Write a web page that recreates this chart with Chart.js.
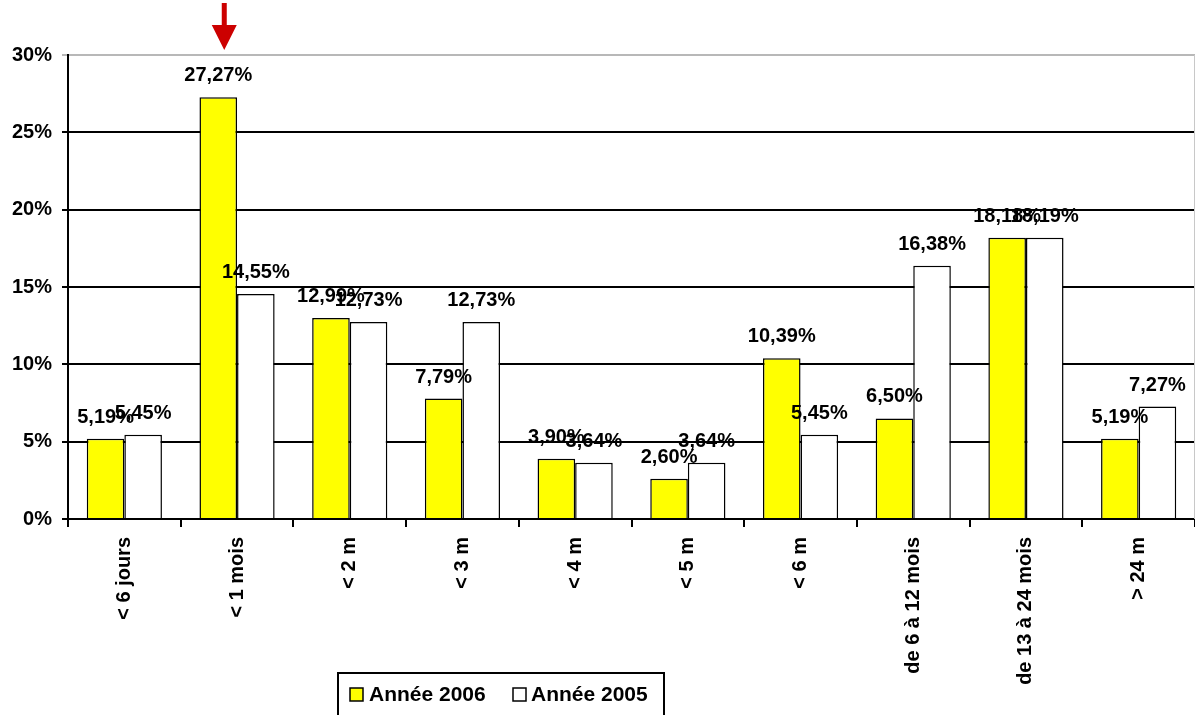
<!DOCTYPE html>
<html>
<head>
<meta charset="utf-8">
<script src="https://cdn.jsdelivr.net/npm/chart.js@4/dist/chart.umd.min.js"></script>
<style>
  html, body { margin: 0; padding: 0; background: #fff; }
  #wrap { width: 1195px; height: 715px; }
</style>
</head>
<body>
<div id="wrap"><canvas id="c" width="1195" height="715"></canvas></div>
<script>
const categories = ['< 6 jours', '< 1 mois', '< 2 m', '< 3 m', '< 4 m', '< 5 m', '< 6 m', 'de 6 à 12 mois', 'de 13 à 24 mois', '> 24 m'];
const annee2006 = [5.19, 27.27, 12.99, 7.79, 3.90, 2.60, 10.39, 6.50, 18.18, 5.19];
const annee2005 = [5.45, 14.55, 12.73, 12.73, 3.64, 3.64, 5.45, 16.38, 18.19, 7.27];
const yTicks = [0, 5, 10, 15, 20, 25, 30];

const FONT = "'Liberation Sans', Arial, sans-serif";

// value labels above each bar, french decimal comma
const valueLabels = {
  id: 'valueLabels',
  afterDatasetsDraw(chart) {
    const ctx = chart.ctx;
    ctx.save();
    ctx.font = 'bold 20px ' + FONT;
    ctx.fillStyle = '#000';
    ctx.textAlign = 'center';
    ctx.textBaseline = 'alphabetic';
    chart.data.datasets.forEach((ds, i) => {
      chart.getDatasetMeta(i).data.forEach((bar, j) => {
        const txt = ds.data[j].toFixed(2).replace('.', ',') + '%';
        ctx.fillText(txt, bar.x, bar.y - 16);
      });
    });
    ctx.restore();
  }
};

// red arrow pointing at the "< 1 mois" bar, light frame right, legend box
const extras = {
  id: 'extras',
  afterDraw(chart) {
    const ctx = chart.ctx;
    const area = chart.chartArea;
    ctx.save();

    // right frame line
    ctx.strokeStyle = '#c8c8c8';
    ctx.lineWidth = 1;
    ctx.beginPath();
    ctx.moveTo(area.right - 0.5, area.top);
    ctx.lineTo(area.right - 0.5, area.bottom);
    ctx.stroke();

    // arrow
    const bar = chart.getDatasetMeta(0).data[1];
    const ax = bar.x + 6;
    ctx.fillStyle = '#cc0000';
    ctx.fillRect(ax - 2.5, 3, 5, 24);
    ctx.beginPath();
    ctx.moveTo(ax - 12.5, 25);
    ctx.lineTo(ax + 12.5, 25);
    ctx.lineTo(ax, 50);
    ctx.closePath();
    ctx.fill();

    // legend
    ctx.fillStyle = '#fff';
    ctx.fillRect(338, 673, 326, 50);
    ctx.strokeStyle = '#000';
    ctx.lineWidth = 2;
    ctx.strokeRect(338, 673, 326, 50);
    ctx.font = 'bold 21px ' + FONT;
    ctx.textBaseline = 'middle';
    ctx.textAlign = 'left';
    const items = [[350, 369], [513, 531]];
    chart.data.datasets.forEach((ds, i) => {
      const [sx, tx] = items[i];
      ctx.fillStyle = ds.backgroundColor;
      ctx.fillRect(sx, 688, 13, 13);
      ctx.lineWidth = 1.5;
      ctx.strokeStyle = '#000';
      ctx.strokeRect(sx, 688, 13, 13);
      ctx.fillStyle = '#000';
      ctx.fillText(ds.label, tx, 695);
    });
    ctx.restore();
  }
};

new Chart(document.getElementById('c'), {
  type: 'bar',
  data: {
    labels: categories,
    datasets: [
      { label: 'Année 2006', data: annee2006, backgroundColor: '#ffff00', borderColor: '#000', borderWidth: 1.5 },
      { label: 'Année 2005', data: annee2005, backgroundColor: '#ffffff', borderColor: '#000', borderWidth: 1.5 }
    ]
  },
  options: {
    responsive: false,
    animation: false,
    layout: { padding: { top: 55, right: 0, left: 0, bottom: 0 } },
    datasets: { bar: { categoryPercentage: 0.667, barPercentage: 1.0 } },
    plugins: {
      legend: { display: false },
      tooltip: { enabled: false }
    },
    scales: {
      x: {
        offset: true,
        grid: {
          offset: true,
          drawOnChartArea: false,
          drawTicks: true,
          tickLength: 8,
          color: '#000',
          lineWidth: 2
        },
        border: { color: '#000', width: 2 },
        ticks: {
          minRotation: 90,
          maxRotation: 90,
          autoSkip: false,
          padding: 10,
          color: '#000',
          font: { family: FONT, size: 20, weight: 'bold' }
        },
        afterFit(scale) { scale.height = 196; }
      },
      y: {
        min: 0,
        max: 30,
        afterBuildTicks(scale) { scale.ticks = yTicks.map(v => ({ value: v })); },
        grid: {
          color: (c) => (c.tick && c.tick.value === 30 ? '#b8b8b8' : '#000'),
          lineWidth: 2,
          tickLength: 6
        },
        border: { color: '#000', width: 2 },
        ticks: {
          callback: (v) => v + '%',
          color: '#000',
          padding: 10,
          font: { family: FONT, size: 20, weight: 'bold' }
        },
        afterFit(scale) { scale.width = 68; }
      }
    }
  },
  plugins: [valueLabels, extras]
});
</script>
</body>
</html>
